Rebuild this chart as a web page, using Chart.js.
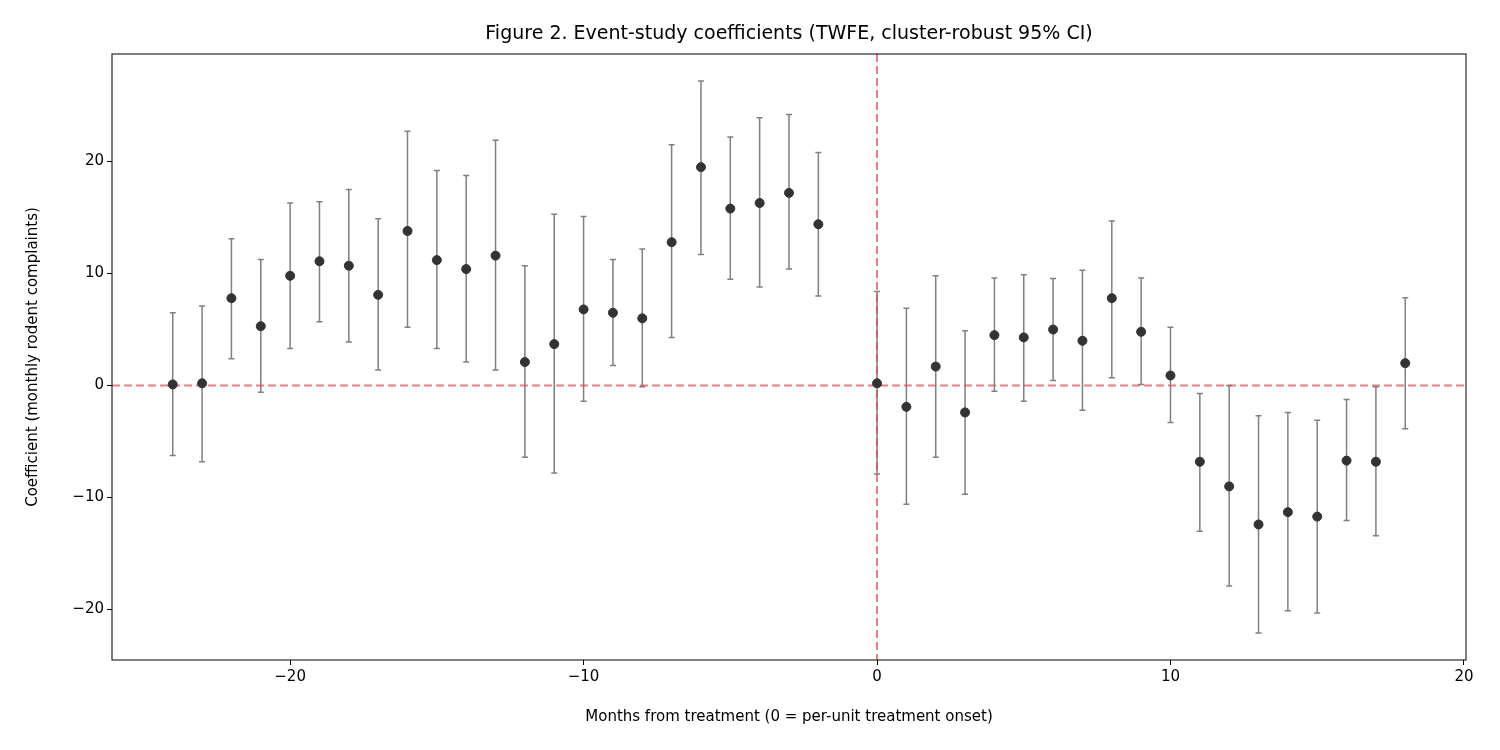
<!DOCTYPE html>
<html>
<head>
<meta charset="utf-8">
<script src="https://cdn.jsdelivr.net/npm/chart.js@4"></script>
<style>
  body { margin: 0; background: #fff; }
  #wrap { width: 1500px; height: 750px; }
</style>
</head>
<body>
<div id="wrap"><canvas id="myChart"></canvas></div>
<script>
// event time (months from treatment)
const months = [-24, -23, -22, -21, -20, -19, -18, -17, -16, -15, -14, -13, -12, -11, -10, -9, -8, -7, -6, -5, -4, -3, -2,
  0, 1, 2, 3, 4, 5, 6, 7, 8, 9, 10, 11, 12, 13, 14, 15, 16, 17, 18];
const coef = [0.1, 0.2, 7.8, 5.3, 9.8, 11.1, 10.7, 8.1, 13.8, 11.2, 10.4, 11.6, 2.1, 3.7, 6.8, 6.5, 6.0, 12.8, 19.5, 15.8, 16.3, 17.2, 14.4,
  0.2, -1.9, 1.7, -2.4, 4.5, 4.3, 5.0, 4.0, 7.8, 4.8, 0.9, -6.8, -9.0, -12.4, -11.3, -11.7, -6.7, -6.8, 2.0];
const ciLow = [-6.25, -6.8, 2.4, -0.6, 3.3, 5.7, 3.9, 1.4, 5.2, 3.3, 2.1, 1.4, -6.4, -7.8, -1.4, 1.8, -0.1, 4.3, 11.7, 9.5, 8.8, 10.4, 8.0,
  -7.9, -10.6, -6.4, -9.7, -0.5, -1.4, 0.45, -2.2, 0.7, 0.1, -3.3, -13.0, -17.9, -22.1, -20.1, -20.3, -12.05, -13.4, -3.85];
const ciHigh = [6.5, 7.1, 13.1, 11.25, 16.3, 16.4, 17.5, 14.9, 22.7, 19.2, 18.75, 21.9, 10.7, 15.3, 15.1, 11.25, 12.2, 21.5, 27.2, 22.2, 23.9, 24.2, 20.8,
  8.4, 6.9, 9.8, 4.9, 9.6, 9.9, 9.55, 10.3, 14.7, 9.6, 5.2, -0.7, 0.0, -2.7, -2.4, -3.1, -1.25, -0.1, 7.85];
const titleText = 'Figure 2. Event-study coefficients (TWFE, cluster-robust 95% CI)';

const minus = v => String(v).replace('-', '\u2212');
const font = 'DejaVu Sans';

// reference lines, error bars, frame and title
const extras = {
  id: 'extras',
  beforeDatasetsDraw(chart) {
    const { ctx, chartArea: a, scales: { x, y } } = chart;
    ctx.save();
    ctx.strokeStyle = '#808080';
    ctx.lineWidth = 1.5;
    months.forEach((m, i) => {
      const px = x.getPixelForValue(m);
      const lo = y.getPixelForValue(ciLow[i]);
      const hi = y.getPixelForValue(ciHigh[i]);
      ctx.beginPath();
      ctx.moveTo(px, lo); ctx.lineTo(px, hi);
      ctx.moveTo(px - 3, lo); ctx.lineTo(px + 3, lo);
      ctx.moveTo(px - 3, hi); ctx.lineTo(px + 3, hi);
      ctx.stroke();
    });
    ctx.strokeStyle = 'rgba(240,70,70,0.7)';
    ctx.lineWidth = 2;
    ctx.setLineDash([8, 4]);
    const y0 = y.getPixelForValue(0), x0 = x.getPixelForValue(0);
    ctx.beginPath();
    ctx.moveTo(a.left, y0); ctx.lineTo(a.right, y0);
    ctx.moveTo(x0, a.top); ctx.lineTo(x0, a.bottom);
    ctx.stroke();
    ctx.restore();
  },
  afterDraw(chart) {
    const { ctx, chartArea: a } = chart;
    ctx.save();
    ctx.strokeStyle = '#000';
    ctx.lineWidth = 1;
    ctx.strokeRect(a.left, a.top, a.right - a.left, a.bottom - a.top);
    ctx.fillStyle = '#000';
    ctx.font = '19px "' + font + '"';
    ctx.textAlign = 'center';
    ctx.textBaseline = 'middle';
    ctx.fillText(titleText, (a.left + a.right) / 2, 34);
    ctx.restore();
  }
};

new Chart(document.getElementById('myChart'), {
  type: 'scatter',
  data: {
    datasets: [{
      data: months.map((m, i) => ({ x: m, y: coef[i] })),
      backgroundColor: '#333333',
      borderColor: '#333333',
      pointRadius: 4.5,
    }]
  },
  options: {
    responsive: true,
    maintainAspectRatio: false,
    animation: false,
    layout: { padding: { left: 20, right: 34, top: 54, bottom: 20 } },
    plugins: {
      legend: { display: false },
      tooltip: { enabled: false },
      title: { display: false }
    },
    scales: {
      x: {
        type: 'linear',
        min: -26.07, max: 20.07,
        afterFit: s => { s.height = 70; },
        grid: { drawOnChartArea: false, drawTicks: true, tickLength: 5, color: '#000' },
        border: { display: false },
        ticks: { stepSize: 10, includeBounds: false, color: '#000', font: { size: 15, family: font }, callback: minus },
        title: { display: true, text: 'Months from treatment (0 = per-unit treatment onset)', color: '#000', font: { size: 15, family: font } }
      },
      y: {
        min: -24.5, max: 29.6,
        afterFit: s => { s.width = 92; },
        grid: { drawOnChartArea: false, drawTicks: true, tickLength: 5, color: '#000' },
        border: { display: false },
        ticks: { stepSize: 10, includeBounds: false, color: '#000', font: { size: 15, family: font }, callback: minus },
        title: { display: true, text: 'Coefficient (monthly rodent complaints)', color: '#000', font: { size: 15, family: font } }
      }
    }
  },
  plugins: [extras]
});
</script>
</body>
</html>
